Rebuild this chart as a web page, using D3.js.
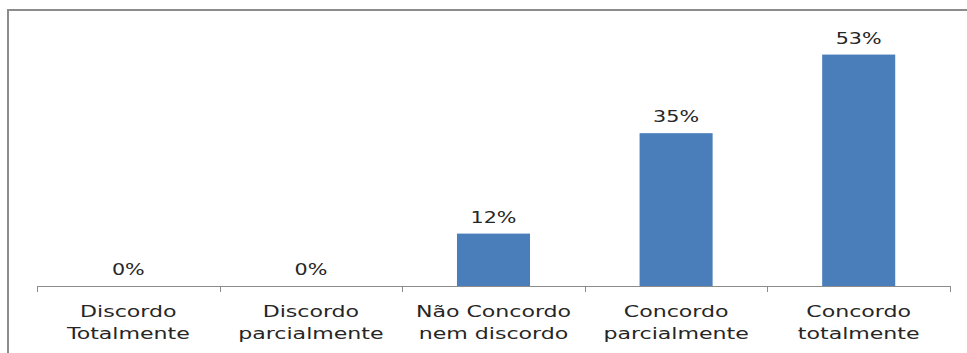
<!DOCTYPE html>
<html>
<head>
<meta charset="utf-8">
<script src="https://d3js.org/d3.v7.min.js"></script>
<style>
body { margin: 0; background: #fff; }
text { font-family: "DejaVu Sans", sans-serif; fill: #262626; }
</style>
</head>
<body>
<svg width="967" height="353"></svg>
<script>
// data
var categories = ["Discordo Totalmente", "Discordo parcialmente", "Não Concordo nem discordo", "Concordo parcialmente", "Concordo totalmente"];
var catLines = [["Discordo", "Totalmente"], ["Discordo", "parcialmente"], ["Não Concordo", "nem discordo"], ["Concordo", "parcialmente"], ["Concordo", "totalmente"]];
var values = [0, 0, 12, 35, 53];

var svg = d3.select("svg");
var stretch = 1.38; // the source text is drawn wide

// chart frame (top and left edges only visible)
svg.append("line").attr("x1", 8).attr("x2", 967).attr("y1", 10).attr("y2", 10)
  .attr("stroke", "#8c8c8c").attr("stroke-width", 2);
svg.append("line").attr("x1", 8).attr("x2", 8).attr("y1", 9).attr("y2", 353)
  .attr("stroke", "#8c8c8c").attr("stroke-width", 2);

var x = d3.scaleBand().domain(categories).range([37, 950]).paddingInner(0.6).paddingOuter(0.3);
var y = d3.scaleLinear().domain([0, 60]).range([286, 24]);

var g = svg.append("g");

g.selectAll("rect.bar").data(values).enter().append("rect")
  .attr("class", "bar")
  .attr("x", function(d, i) { return x(categories[i]); })
  .attr("width", x.bandwidth())
  .attr("y", function(d) { return y(d); })
  .attr("height", function(d) { return y(0) - y(d); })
  .attr("fill", "#4a7ebb");

// value labels
g.selectAll("text.val").data(values).enter().append("text")
  .attr("class", "val")
  .attr("text-anchor", "middle")
  .attr("transform", function(d, i) {
    return "translate(" + (x(categories[i]) + x.bandwidth() / 2) + "," + (y(d) - 11) + ") scale(" + stretch + ",1)";
  })
  .style("font-size", "15px")
  .text(function(d) { return d + "%"; });

// x axis with ticks at category boundaries
var edges = d3.range(categories.length + 1).map(function(i) { return 37 + i * (913 / categories.length); });
svg.append("line").attr("x1", 37).attr("x2", 950).attr("y1", 286.5).attr("y2", 286.5)
  .attr("stroke", "#8c8c8c").attr("stroke-width", 1);
svg.selectAll("line.tick").data(edges).enter().append("line")
  .attr("class", "tick")
  .attr("x1", function(d) { return Math.round(d) + 0.5; })
  .attr("x2", function(d) { return Math.round(d) + 0.5; })
  .attr("y1", 286).attr("y2", 292)
  .attr("stroke", "#8c8c8c");

// category labels
var lbl = svg.selectAll("text.cat").data(catLines).enter().append("text")
  .attr("class", "cat")
  .attr("text-anchor", "middle")
  .style("font-size", "16px")
  .attr("transform", function(d, i) { return "translate(" + (x(categories[i]) + x.bandwidth() / 2) + ",0) scale(" + stretch + ",1)"; });
lbl.selectAll("tspan").data(function(d) { return d; }).enter().append("tspan")
  .attr("x", 0)
  .attr("y", function(d, j) { return 317 + j * 22; })
  .text(function(d) { return d; });
</script>
</body>
</html>
